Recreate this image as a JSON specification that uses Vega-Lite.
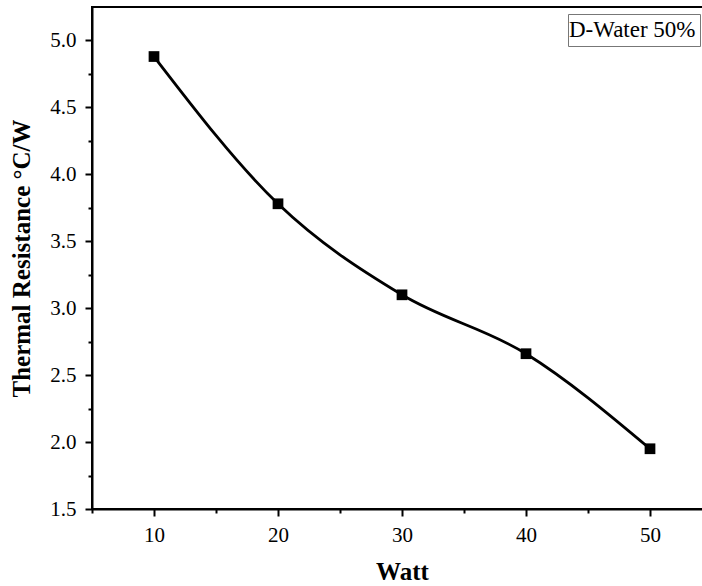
{
  "$schema": "https://vega.github.io/schema/vega-lite/v6.json",
  "autosize": "none",
  "width": 620,
  "height": 502,
  "padding": {"left": 92, "top": 7, "right": 0, "bottom": 77},
  "background": "white",
  "config": {
    "view": {"stroke": "black", "strokeWidth": 2},
    "font": "Liberation Serif",
    "axis": {
      "domainColor": "black", "domainWidth": 2, "tickColor": "black", "tickWidth": 2,
      "labelFont": "Liberation Serif", "labelFontSize": 21, "labelColor": "black",
      "titleFont": "Liberation Serif", "titleFontSize": 25, "titleFontWeight": "bold", "titleColor": "black",
      "grid": false
    }
  },
  "data": {"values": [
    {"watt": 10, "r": 4.88, "series": "D-Water 50%"},
    {"watt": 20, "r": 3.78, "series": "D-Water 50%"},
    {"watt": 30, "r": 3.10, "series": "D-Water 50%"},
    {"watt": 40, "r": 2.66, "series": "D-Water 50%"},
    {"watt": 50, "r": 1.95, "series": "D-Water 50%"}
  ]},
  "encoding": {
    "x": {"field": "watt", "type": "quantitative", "scale": {"domain": [5, 55], "nice": false, "zero": false},
      "axis": {"title": "Watt", "values": [5, 10, 15, 20, 25, 30, 35, 40, 45, 50, 55],
        "labelExpr": "datum.value % 10 === 0 ? datum.label : ''",
        "tickSize": {"expr": "datum.value % 10 === 0 ? 7 : 4"},
        "labelFontSize": 21, "titleFontSize": 25,
        "labelPadding": 8, "titlePadding": 14}},
    "y": {"field": "r", "type": "quantitative", "scale": {"domain": [1.5, 5.25], "nice": false, "zero": false},
      "axis": {"title": "Thermal Resistance °C/W", "values": [1.5, 1.75, 2, 2.25, 2.5, 2.75, 3, 3.25, 3.5, 3.75, 4, 4.25, 4.5, 4.75, 5],
        "format": ".1f",
        "labelExpr": "abs(datum.value*2 - round(datum.value*2)) < 0.01 ? datum.label : ''",
        "tickSize": {"expr": "abs(datum.value*2 - round(datum.value*2)) < 0.01 ? 7 : 4"},
        "labelFontSize": 21, "titleFontSize": 25,
        "labelPadding": 9, "titlePadding": 15}}
  },
  "layer": [
    {"mark": {"type": "line", "interpolate": "monotone", "strokeWidth": 2.8},
      "encoding": {"color": {"field": "series", "type": "nominal", "scale": {"range": ["black"]},
        "legend": {"title": null, "orient": "none", "legendX": 476, "legendY": 7, "symbolSize": 1, "symbolOpacity": 0,
          "labelFont": "Liberation Serif", "labelFontSize": 23, "labelColor": "black", "symbolStrokeWidth": 0,
          "strokeColor": "#777", "fillColor": "white", "padding": 4, "labelOffset": -26, "labelLimit": 300,
          "encode": {"legend": {"update": {"width": {"value": 150}}}}}}}},
    {"mark": {"type": "point", "shape": "square", "filled": true, "size": 115, "opacity": 1, "color": "black"}}
  ]
}
